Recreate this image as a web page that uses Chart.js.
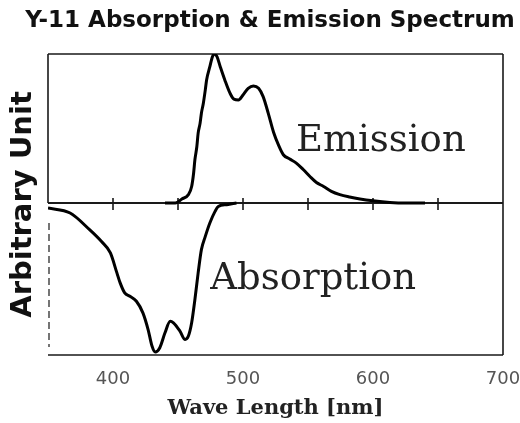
<!DOCTYPE html>
<html><head><meta charset="utf-8">
<script src="https://cdn.jsdelivr.net/npm/chart.js@4.4.1/dist/chart.umd.min.js"></script>
<style>html,body{margin:0;padding:0;background:#fff}#wrap{width:520px;height:423px}</style>
</head><body><div id="wrap"><canvas id="c" width="520" height="423"></canvas></div>
<script>
const titleText = 'Y-11 Absorption & Emission Spectrum';
const xTitle = 'Wave Length [nm]';
const yTitle = 'Arbitrary Unit';
const xTickLabels = ['400', '500', '600', '700'];
const seriesNames = ['Emission', 'Absorption'];

const emissionWl  = [440, 448, 453, 458, 460.5, 462, 463, 464.5, 465.5, 467, 468, 469.5, 471, 472, 474.5, 476.5, 478, 480, 482.5, 486, 490, 493, 496.5, 500, 504, 508, 512, 515.5, 519.5, 523.5, 527.5, 531, 536, 541, 546.5, 551.5, 556.5, 562, 568, 574.5, 582, 590, 600, 613, 625, 640];
const emissionVal = [0, 0, 0.027, 0.056, 0.111, 0.2, 0.29, 0.379, 0.469, 0.536, 0.603, 0.67, 0.759, 0.826, 0.915, 0.982, 1.0, 0.982, 0.915, 0.826, 0.737, 0.697, 0.692, 0.725, 0.77, 0.786, 0.77, 0.714, 0.6, 0.475, 0.385, 0.324, 0.295, 0.268, 0.223, 0.178, 0.138, 0.111, 0.078, 0.056, 0.04, 0.027, 0.015, 0.004, 0, 0];

const absorptionWl  = [350, 367, 382, 391, 398, 403, 405.5, 409, 413, 418, 423, 427, 430, 432.5, 436, 440, 444, 446.5, 451.5, 455.5, 458, 460.5, 463, 465.5, 468, 471, 474.5, 478.5, 481, 487.5, 495];
const absorptionVal = [-0.034, -0.067, -0.179, -0.257, -0.335, -0.469, -0.536, -0.603, -0.626, -0.659, -0.737, -0.849, -0.96, -1.0, -0.971, -0.871, -0.793, -0.804, -0.86, -0.916, -0.893, -0.804, -0.648, -0.469, -0.313, -0.224, -0.134, -0.056, -0.023, -0.011, 0];

const annotations = [
  { text: seriesNames[0], wl: 606, val: 0.346 },
  { text: seriesNames[1], wl: 554, val: -0.58 }
];

const toPoints = (xs, ys) => xs.map((x, i) => ({ x: x, y: ys[i] }));

const decor = {
  id: 'decor',
  beforeDatasetsDraw(chart) {
    const ctx = chart.ctx;
    const { left, right, top, bottom } = chart.chartArea;
    const xs = chart.scales.x, ys = chart.scales.y;
    const y0 = ys.getPixelForValue(0);
    ctx.save();
    ctx.strokeStyle = '#1a1a1a';
    ctx.lineWidth = 1.6;
    ctx.beginPath();
    ctx.moveTo(left, top); ctx.lineTo(right, top);
    ctx.moveTo(right, top); ctx.lineTo(right, bottom);
    ctx.moveTo(left, bottom); ctx.lineTo(right, bottom);
    ctx.moveTo(left, top); ctx.lineTo(left, y0);
    ctx.stroke();
    ctx.setLineDash([7, 4]);
    ctx.lineWidth = 1.2;
    ctx.beginPath();
    ctx.moveTo(left + 1, y0 + 20); ctx.lineTo(left + 1, bottom - 8);
    ctx.stroke();
    ctx.setLineDash([]);
    ctx.lineWidth = 2;
    ctx.beginPath();
    ctx.moveTo(left, y0); ctx.lineTo(right, y0);
    ctx.stroke();
    ctx.lineWidth = 1.6;
    ctx.beginPath();
    xs.ticks.forEach(t => {
      if (t.value > xs.min && t.value < xs.max) {
        const px = xs.getPixelForValue(t.value);
        ctx.moveTo(px, y0 - 5); ctx.lineTo(px, y0 + 7);
      }
    });
    ctx.stroke();
    ctx.restore();
  },
  afterDraw(chart) {
    const ctx = chart.ctx;
    const xs = chart.scales.x, ys = chart.scales.y;
    ctx.save();
    ctx.fillStyle = '#111';
    ctx.font = 'bold 23px "DejaVu Sans"';
    ctx.textAlign = 'center';
    ctx.textBaseline = 'middle';
    ctx.fillText(titleText, 270, 21);
    ctx.font = '37px "DejaVu Serif"';
    ctx.fillStyle = '#222';
    ctx.textBaseline = 'alphabetic';
    annotations.forEach(a => {
      ctx.fillText(a.text, xs.getPixelForValue(a.wl), ys.getPixelForValue(a.val));
    });
    ctx.restore();
  }
};

new Chart(document.getElementById('c'), {
  type: 'line',
  data: {
    datasets: [
      { label: seriesNames[0], data: toPoints(emissionWl, emissionVal), borderColor: '#000', borderWidth: 3, pointRadius: 0, cubicInterpolationMode: 'monotone', fill: false },
      { label: seriesNames[1], data: toPoints(absorptionWl, absorptionVal), borderColor: '#000', borderWidth: 3, pointRadius: 0, cubicInterpolationMode: 'monotone', fill: false }
    ]
  },
  options: {
    responsive: false,
    animation: false,
    devicePixelRatio: 1,
    layout: { padding: { top: 54, right: 17, left: 0, bottom: 0 } },
    plugins: { legend: { display: false }, tooltip: { enabled: false }, title: { display: false } },
    scales: {
      x: {
        type: 'linear', min: 350, max: 700,
        afterFit: s => { s.height = 68; s.paddingLeft = 0; s.paddingRight = 0; },
        grid: { display: false, drawTicks: false, tickLength: 0 },
        border: { display: false },
        ticks: {
          stepSize: 50, autoSkip: false, maxRotation: 0, padding: 14,
          color: '#555', font: { family: 'DejaVu Sans', size: 18 },
          callback: v => xTickLabels.includes(String(v)) ? String(v) : ''
        },
        title: { display: true, text: xTitle, color: '#222', font: { family: 'DejaVu Serif', size: 21, weight: 'bold' }, padding: { top: 0, bottom: 2 } }
      },
      y: {
        type: 'linear', min: -1.02, max: 1,
        afterFit: s => { s.width = 48; },
        grid: { display: false, drawTicks: false },
        border: { display: false },
        ticks: { display: false },
        title: { display: true, text: yTitle, color: '#111', font: { family: 'DejaVu Sans', size: 29, weight: 'bold' }, padding: { top: 5.6, bottom: 0 } }
      }
    }
  },
  plugins: [decor]
});
</script></body></html>
